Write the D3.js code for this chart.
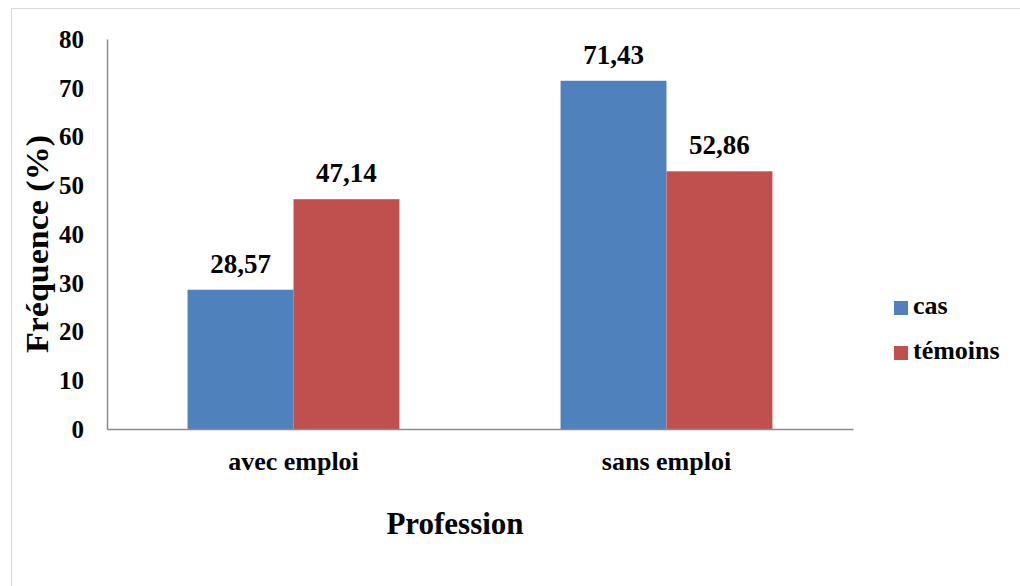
<!DOCTYPE html>
<html><head><meta charset="utf-8">
<script src="https://cdn.jsdelivr.net/npm/d3@7"></script>
<style>
body{margin:0;background:#fff;}
svg text{font-family:"Liberation Serif","Times New Roman",serif;font-weight:bold;fill:#000;}
</style></head>
<body><svg id="chart" width="1020" height="586"></svg>
<script>
const categories = ["avec emploi", "sans emploi"];
const seriesNames = ["cas", "témoins"];
const casValues = [28.57, 71.43];
const temoinsValues = [47.14, 52.86];
const valueLabels = [["28,57", "47,14"], ["71,43", "52,86"]];
const yTicks = [0, 10, 20, 30, 40, 50, 60, 70, 80];
const colors = ["#4F81BD", "#C0504D"];

const svg = d3.select("#chart");
// outer frame
svg.append("rect").attr("x", 11.5).attr("y", 8.5).attr("width", 1020).attr("height", 600)
  .attr("fill", "#fff").attr("stroke", "#d9d9d9").attr("stroke-width", 1);

const plot = {left: 107, right: 853, top: 39, bottom: 429};
const y = d3.scaleLinear().domain([0, 80]).range([plot.bottom, plot.top]);
const x0 = d3.scaleBand().domain(categories).range([plot.left, plot.right])
  .paddingInner(0.432).paddingOuter(0.216);
const x1 = d3.scaleBand().domain(seriesNames).range([0, x0.bandwidth()]);

const rows = categories.map((c, i) => ({cat: c, vals: [casValues[i], temoinsValues[i]], labels: valueLabels[i]}));

const groups = svg.append("g").selectAll("g").data(rows).join("g")
  .attr("transform", d => `translate(${x0(d.cat)},0)`);
const cells = d => d.vals.map((v, j) => ({v, j, label: d.labels[j]}));
groups.selectAll("rect").data(cells).join("rect")
  .attr("x", d => x1(seriesNames[d.j]))
  .attr("y", d => y(d.v))
  .attr("width", x1.bandwidth())
  .attr("height", d => y(0) - y(d.v))
  .attr("fill", d => colors[d.j]);
groups.selectAll("text").data(cells).join("text")
  .attr("x", d => x1(seriesNames[d.j]) + x1.bandwidth() / 2)
  .attr("y", d => y(d.v) - 17)
  .attr("text-anchor", "middle")
  .style("font-size", "27px")
  .text(d => d.label);

// y axis
const yAxis = d3.axisLeft(y).tickValues(yTicks).tickSize(0).tickPadding(23);
const gy = svg.append("g").attr("transform", `translate(${plot.left},0)`).call(yAxis);
gy.attr("font-family", null).attr("font-size", null);
gy.select(".domain").attr("stroke", "#8c8c8c").attr("stroke-width", 1.5);
gy.selectAll("text").style("font-size", "25px").attr("dy", "0.33em");

// x axis
const xAxis = d3.axisBottom(x0).tickSize(0);
const gx = svg.append("g").attr("transform", `translate(0,${plot.bottom})`).call(xAxis);
gx.attr("font-family", null).attr("font-size", null);
gx.select(".domain").attr("stroke", "#8c8c8c").attr("stroke-width", 1.5);
gx.selectAll("text").style("font-size", "26px").attr("y", 41).attr("dy", null);

// titles
svg.append("text").attr("x", 455).attr("y", 534).attr("text-anchor", "middle")
  .style("font-size", "31px").text("Profession");
svg.append("text").attr("transform", "translate(48,244) rotate(-90)").attr("text-anchor", "middle")
  .style("font-size", "31px").attr("textLength", 218).attr("lengthAdjust", "spacingAndGlyphs")
  .text("Fréquence (%)");

// legend
const legend = svg.append("g").selectAll("g").data(seriesNames).join("g")
  .attr("transform", (d, i) => `translate(894,${301 + i * 45})`);
legend.append("rect").attr("width", 14).attr("height", 14).attr("fill", (d, i) => colors[i]);
legend.append("text").attr("x", 19).attr("y", 13 + 0).style("font-size", "26px").text(d => d);
</script></body></html>
